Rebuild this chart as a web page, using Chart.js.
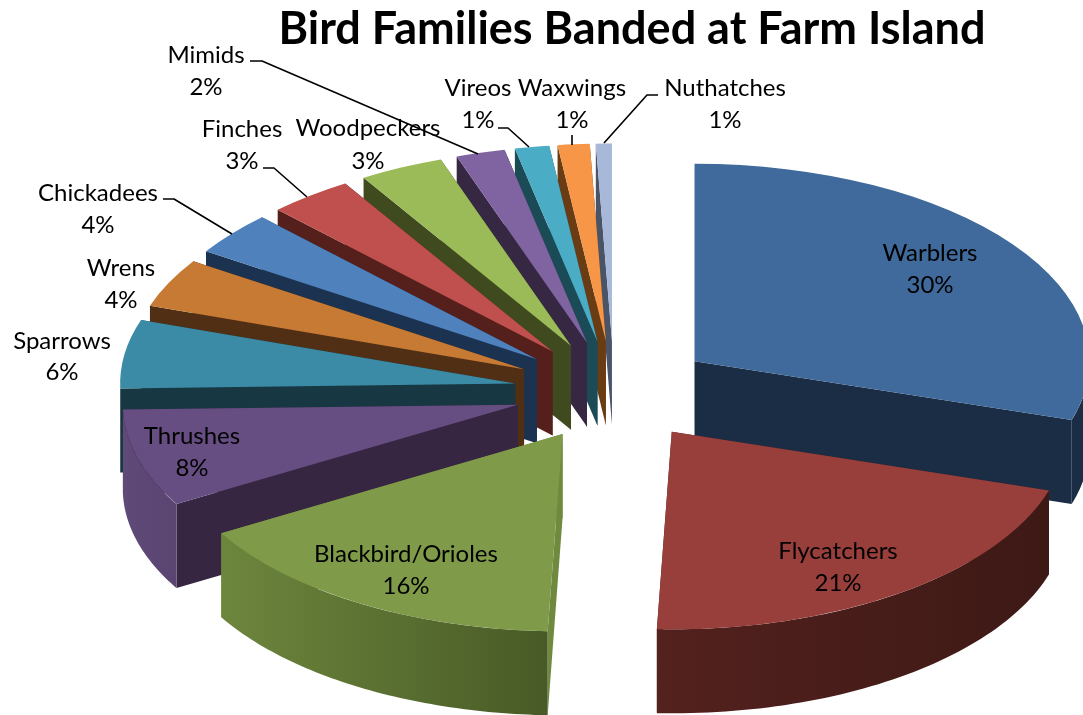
<!DOCTYPE html>
<html><head><meta charset="utf-8">
<style>html,body{margin:0;padding:0;background:#fff}canvas{display:block}</style>
<script src="https://cdn.jsdelivr.net/npm/chart.js@4"></script>
</head><body><canvas id="c" width="1083" height="715"></canvas>
<script>
const categories = ['Warblers','Flycatchers','Blackbird/Orioles','Thrushes','Sparrows','Wrens','Chickadees','Finches','Woodpeckers','Mimids','Vireos','Waxwings','Nuthatches'];
const values = [29.8,20.8,16,8,5.6,4.0,3.55,3.45,3.45,2,1.4,1.3,0.65];
const topColors = ['#3f6a9b','#983f3c','#7f9a48','#674e82','#3b8ba6','#c77a34','#4f81bd','#c0504d','#9bbb59','#8064a2','#4bacc6','#f79646','#a7b8d8'];
const faceColors = ['#1a2d45','#53211e','#6f8a3f','#372642','#173843','#512f14','#1b3350','#55201c','#3f4a1f','#362843','#1b4b56','#6a3c14','#4a5468'];
const wallLeft = ['#1a2d45','#53211e','#6d863d','#5f4a78','#173843','#512f14','#1b3350','#55201c','#3f4a1f','#362843','#1b4b56','#6a3c14','#4a5468'];
const wallRight = ['#1a2d45','#3d1915','#485a26','#5a4470','#173843','#512f14','#1b3350','#55201c','#3f4a1f','#362843','#1b4b56','#6a3c14','#4a5468'];
const paintOrder = [12,11,10,9,8,7,6,5,4,3,2,0,1];

// layout of the 3D projection
const CENTER = {x:614, y:391}, SQUASH = 0.5, EXPLODE = 100, DEPTH = 84, RADIUS = 395;
// label centres: [x, y of name, y of percent]
const labelAt = [[930,253,285],[838,551,583],[406,554,586],[192,436,468],[62,341,372],[121,268,300],[98,193,225],[242,129,161],[368,128,161],[206,55,87],[478,88,120],[572,88,120],[725,88,120]];
const leaders = [
 [[250,61],[262,61],[478,154]],
 [[263,168],[274,168],[307,197]],
 [[163,199],[174,199],[232,234]],
 [[498,128],[508,128],[529,147]],
 [[572,135],[572,145]],
 [[658,95],[647,95],[604,143]]
];

const pie3d = {
  id:'pie3d',
  beforeDatasetsDraw(chart){
    const ctx = chart.ctx, arcs = chart.getDatasetMeta(0).data;
    paintOrder.forEach(i=>{
      const el = arcs[i], a0 = el.startAngle, a1 = el.endAngle, mid=(a0+a1)/2, r = el.outerRadius;
      const ax = CENTER.x + EXPLODE*Math.cos(mid), ay = CENTER.y + EXPLODE*SQUASH*Math.sin(mid);
      const pt = a => [ax + r*Math.cos(a), ay + r*SQUASH*Math.sin(a)];
      // radial cut faces
      ctx.fillStyle = faceColors[i];
      [a0,a1].forEach(a=>{
        const p = pt(a);
        ctx.beginPath();ctx.moveTo(ax,ay);ctx.lineTo(p[0],p[1]);ctx.lineTo(p[0],p[1]+DEPTH);ctx.lineTo(ax,ay+DEPTH);ctx.closePath();ctx.fill();
      });
      // outer wall, front half only
      const lo = Math.max(a0,0), hi = Math.min(a1,Math.PI);
      if(hi>lo){
        const n = 60, pl = pt(lo), ph = pt(hi);
        const g = ctx.createLinearGradient(Math.min(pl[0],ph[0]),0,Math.max(pl[0],ph[0]),0);
        g.addColorStop(0,wallLeft[i]);g.addColorStop(1,wallRight[i]);
        ctx.fillStyle = g;
        ctx.beginPath();
        for(let k=0;k<=n;k++){const p=pt(lo+(hi-lo)*k/n);k?ctx.lineTo(p[0],p[1]):ctx.moveTo(p[0],p[1]);}
        for(let k=n;k>=0;k--){const p=pt(lo+(hi-lo)*k/n);ctx.lineTo(p[0],p[1]+DEPTH);}
        ctx.closePath();ctx.fill();
      }
      // top surface: the library's own arc element
      ctx.save();
      ctx.translate(ax,ay);ctx.scale(1,SQUASH);ctx.translate(-el.x,-el.y);
      el.draw(ctx);
      ctx.restore();
    });
    return false;
  },
  afterDraw(chart){
    const ctx = chart.ctx;
    ctx.save();
    ctx.strokeStyle='#000';ctx.lineWidth=1.6;ctx.lineJoin='round';
    leaders.forEach(l=>{ctx.beginPath();l.forEach((p,k)=>k?ctx.lineTo(p[0],p[1]):ctx.moveTo(p[0],p[1]));ctx.stroke();});
    ctx.fillStyle='#000';ctx.textAlign='center';ctx.textBaseline='middle';
    ctx.font='24px Lato, "Open Sans", sans-serif';
    categories.forEach((c,i)=>{
      const p = labelAt[i];
      ctx.fillText(c,p[0],p[1]);
      ctx.fillText(Math.round(values[i])+'%',p[0],p[2]);
    });
    ctx.restore();
  }
};

new Chart(document.getElementById('c'),{
  type:'pie',
  data:{labels:categories,datasets:[{data:values,backgroundColor:topColors,borderWidth:0,hoverOffset:0}]},
  options:{
    responsive:false,animation:false,radius:RADIUS,
    layout:{padding:{left:181}},
    plugins:{legend:{display:false},tooltip:{enabled:false},
      title:{display:true,text:'Bird Families Banded at Farm Island',color:'#000',font:{family:'Lato, "Open Sans", sans-serif',size:45,weight:'bold'},padding:{top:2,bottom:4}}}
  },
  plugins:[pie3d]
});
</script></body></html>
